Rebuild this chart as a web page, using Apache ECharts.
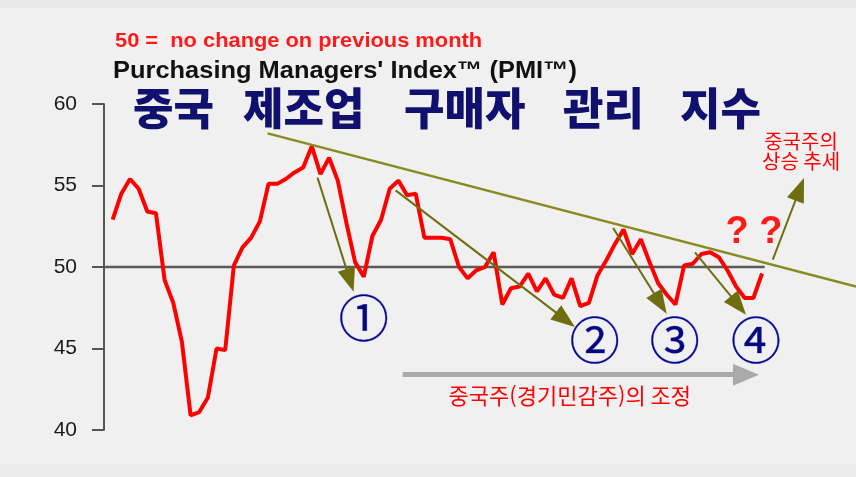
<!DOCTYPE html>
<html lang="ko">
  <head>
    <meta charset="UTF-8" />
    <title>중국 제조업 구매자 관리 지수</title>
    <script src="https://cdn.jsdelivr.net/npm/echarts@6.0.0/dist/echarts.min.js"></script>
    <style>
      html, body { margin: 0; padding: 0; }
      #chart {
        width: 856px;
        height: 477px;
        background: linear-gradient(#e9e9e9 0, #e9e9e9 8px, #f0f0f0 8px, #f0f0f0 464px, #ebebeb 464px);
      }
    </style>
  </head>
  <body>
    <div id="chart"></div>
  </body>
</html>
<script>
  // PMI 월별 값
  const pmi = [
    52.9, 54.5, 55.4, 54.8, 53.4, 53.3, 49.2, 47.8, 45.4, 40.9,
    41.1, 42.0, 45.0, 44.9, 50.1, 51.2, 51.8, 52.8, 55.1, 55.1,
    55.4, 55.8, 56.1, 57.4, 55.7, 56.7, 55.3, 52.7, 50.3, 49.4,
    51.9, 52.9, 54.8, 55.3, 54.4, 54.5, 51.8, 51.8, 51.8, 51.7,
    50.0, 49.3, 49.8, 50.0, 50.9, 47.7, 48.7, 48.8, 49.6, 48.5,
    49.3, 48.3, 48.1, 49.3, 47.6, 47.8, 49.5, 50.4, 51.4, 52.3,
    50.8, 51.7, 50.3, 49.0, 48.3, 47.7, 50.1, 50.2, 50.8, 50.9,
    50.6, 49.8, 48.8, 48.1, 48.1, 49.6
  ];
  const yTicks = [40, 45, 50, 55, 60];
  const baseLine = [[-1, 50], [75.3, 50]];

  // 추세선 / 화살표 (x = 월 인덱스, y = 지수)
  const trendLine = [[17.9, 58.2], [85.85, 48.8]];
  const downArrows = [
    [[23.66, 55.48], [27.41, 49.18]],
    [[32.68, 54.70], [52.28, 46.77]],
    [[57.80, 52.39], [63.25, 47.76]],
    [[67.25, 50.90], [72.27, 47.64]]
  ];
  const upArrow = [[76.24, 50.45], [79.35, 54.77]];
  const grayArrow = [[33.49, 43.39], [73.14, 43.39]];

  const circleLabels = [
    ["①", 29.0, 46.9],
    ["②", 55.69, 45.54],
    ["③", 64.93, 45.54],
    ["④", 74.3, 45.54]
  ];

  const chart = echarts.init(document.getElementById("chart"));

  const olive = "#6e6e10";
  const arrowLines = downArrows.concat([upArrow]).map(function (a) {
    return [
      { coord: a[0], symbol: "none" },
      { coord: a[1], symbol: "triangle", symbolSize: [18, 24] }
    ];
  });
  arrowLines.push([
    { coord: trendLine[0], symbol: "none", lineStyle: { color: "#8a8a22", width: 2.5 } },
    { coord: trendLine[1], symbol: "none" }
  ]);
  arrowLines.push([
    { coord: grayArrow[0], symbol: "none", lineStyle: { color: "#aaaaaa", width: 5 } },
    { coord: grayArrow[1], symbol: "triangle", symbolSize: [22, 26] }
  ]);

  const textPoint = function (text, x, y, style) {
    return {
      coord: [x, y],
      symbol: "circle",
      symbolSize: 1,
      itemStyle: { color: "transparent" },
      label: Object.assign({ show: true, position: "inside", formatter: text }, style)
    };
  };

  const points = circleLabels.map(function (c) {
    return textPoint(c[0], c[1], c[2], {
      fontFamily: "Noto Sans CJK KR",
      fontSize: 50,
      color: "#08087a",
      textBorderColor: "#5a6cff",
      textBorderWidth: 0.6
    });
  });
  points.push(textPoint("? ?", 74.07, 52.1, {
    fontFamily: "Liberation Sans", fontWeight: "bold", fontSize: 38, color: "#ff1a1a"
  }));
  points.push(textPoint("중국주의\n상승 추세", 79.5, 57.07, {
    fontFamily: "Noto Sans CJK KR", fontSize: 20, lineHeight: 20, color: "#ff0000", align: "center"
  }));
  points.push(textPoint("중국주(경기민감주)의 조정", 52.8, 42.1, {
    fontFamily: "Noto Sans CJK KR", fontSize: 22, color: "#ff0000"
  }));

  const titleWords = [
    ["중국", 133],
    ["제조업", 243],
    ["구매자", 404],
    ["관리", 563],
    ["지수", 680]
  ];

  let option = {
    animation: false,
    grid: { left: 104, right: 0, top: 104, bottom: 47 },
    xAxis: { type: "value", min: -1, max: 85.85, show: false },
    yAxis: {
      type: "value",
      min: yTicks[0],
      max: yTicks[yTicks.length - 1],
      interval: 5,
      axisLine: { show: true, onZero: false, lineStyle: { color: "#555", width: 2 } },
      axisTick: { show: true, length: 12, lineStyle: { color: "#555", width: 2 } },
      axisLabel: {
        margin: 27, color: "#1a1a1a", fontSize: 21, fontFamily: "Liberation Sans",
        padding: [8, 0, 0, 0]
      },
      splitLine: { show: false }
    },
    graphic: [
      {
        type: "text", left: 115, top: 31,
        style: { text: "50 =  no change on previous month", fill: "#ff1a1a", font: "bold 21px 'Liberation Sans'" },
        scaleX: 1.04
      },
      {
        type: "text", left: 113, top: 59,
        style: { text: "Purchasing Managers' Index™ (PMI™)", fill: "#111", font: "bold 24px 'Liberation Sans'" },
        scaleX: 1.06
      }
    ].concat(titleWords.map(function (w) {
      return {
        type: "text", left: w[1], top: 86,
        style: { text: w[0], fill: "#10106e", font: "900 44px 'Noto Sans CJK KR'" }
      };
    })),
    series: [
      {
        type: "line",
        data: baseLine,
        symbol: "none",
        z: 1,
        lineStyle: { color: "#5a5a5a", width: 2.5 },
        markLine: {
          silent: true,
          animation: false,
          label: { show: false },
          lineStyle: { color: olive, width: 2, type: "solid" },
          data: arrowLines
        },
        markPoint: { silent: true, animation: false, data: points }
      },
      {
        type: "line",
        data: pmi.map(function (v, i) { return [i, v]; }),
        symbol: "none",
        z: 3,
        lineStyle: { color: "#ff0000", width: 4 }
      }
    ]
  };
  chart.setOption(option);
</script>
